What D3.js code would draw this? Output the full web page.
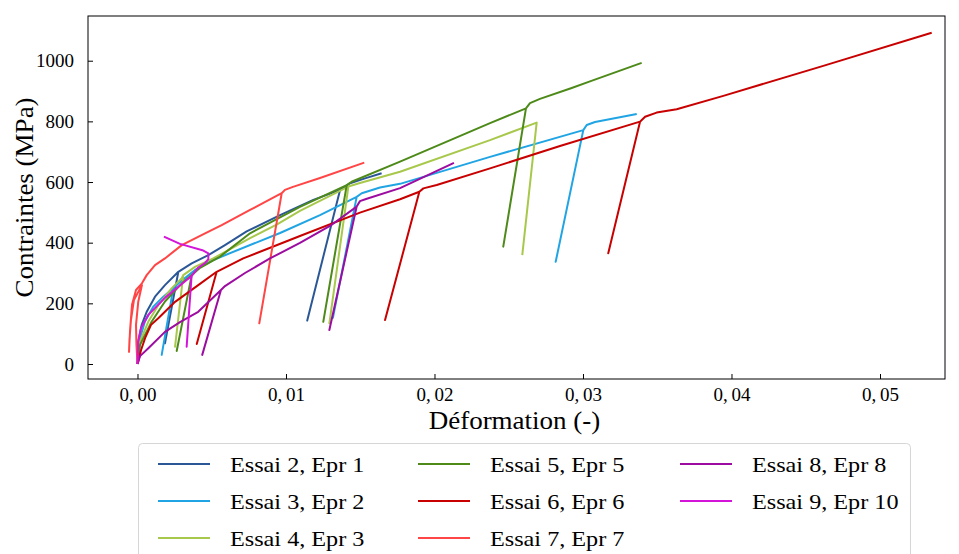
<!DOCTYPE html>
<html>
<head>
<meta charset="utf-8">
<script src="https://cdn.jsdelivr.net/npm/d3@7"></script>
<style>
  html, body { margin: 0; padding: 0; background: #fff; }
  svg { display: block; }
  text { font-family: "Liberation Serif", "Times New Roman", serif; fill: #000; }
</style>
</head>
<body>
<svg id="chart" width="959" height="554"></svg>
<script>
// ---------------- DATA ----------------
const seriesNames = ["Essai 2, Epr 1", "Essai 3, Epr 2", "Essai 4, Epr 3", "Essai 5, Epr 5",
                     "Essai 6, Epr 6", "Essai 7, Epr 7", "Essai 8, Epr 8", "Essai 9, Epr 10"];
const seriesColors = ["#2b5797", "#20a4e4", "#a8c84c", "#4d8a19",
                      "#c80000", "#ff4545", "#9c0ca0", "#d414d8"];

// [strain (-), stress (MPa)]
const essai2 = [[0,0],[0.00005,74],[0.00028,129],[0.00062,172],[0.00118,222],[0.00185,260],[0.00275,304],
  [0.00185,68],[0.00275,304],[0.00365,332],[0.00477,359],[0.00589,392],[0.00735,437],[0.0096,491],
  [0.01184,541],[0.01364,574],[0.01143,143],[0.01364,574],[0.01431,596],[0.01532,612],[0.01644,629]];

const essai3 = [[0,0],[0.00005,19],[0.00017,85],[0.0005,140],[0.00106,189],[0.00174,222],[0.00241,250],
  [0.00163,30],[0.00241,250],[0.00286,270],[0.00387,310],[0.0051,343],[0.0096,432],[0.01229,491],
  [0.01476,551],[0.01316,152],[0.01476,551],[0.0151,563],[0.01633,582],[0.01768,594],[0.02374,683],
  [0.03002,771],[0.02816,337],[0.03002,771],[0.03025,788],[0.03081,798],[0.03362,824]];

const essai4 = [[0,0],[0.00017,74],[0.00073,140],[0.0014,194],[0.00231,250],[0.00298,283],[0.00308,293],
  [0.00253,57],[0.00308,293],[0.00387,320],[0.0051,348],[0.00758,415],[0.0094,460],[0.01094,505],
  [0.0142,585],[0.01292,134],[0.0142,585],[0.01498,597],[0.01768,634],[0.02374,738],[0.02688,796],
  [0.02591,359]];

const essai5 = [[0,0],[0.00017,63],[0.00096,140],[0.00185,206],[0.00298,266],[0.00365,293],
  [0.00264,43],[0.00365,293],[0.00421,317],[0.00556,354],[0.00758,431],[0.01094,518],[0.01409,590],
  [0.01251,139],[0.01409,590],[0.01442,601],[0.01768,667],[0.02374,794],[0.02616,843],
  [0.02463,387],[0.02616,843],[0.02643,860],[0.0271,874],[0.02924,910],[0.03047,932],[0.03395,993]];

const essai6 = [[0,0],[0.00005,8],[0.00024,46],[0.00051,85],[0.00091,129],[0.0014,151],[0.00253,205],
  [0.00409,260],[0.00533,304],[0.00399,66],[0.00533,304],[0.00712,348],[0.01094,422],[0.01498,499],
  [0.01768,543],[0.01898,568],[0.01667,145],[0.01898,568],[0.01925,579],[0.02015,590],[0.02374,645],
  [0.02845,719],[0.03384,799],[0.0317,365],[0.03384,799],[0.03418,815],[0.03496,829],[0.03631,840],
  [0.03945,884],[0.04618,983],[0.05348,1092]];

const essai7 = [[0,0],[-0.00007,63],[-0.0001,129],[0.00005,205],[0.0003,260],[-0.00024,211],
  [-0.00044,145],[-0.00054,79],[-0.00057,40],[-0.0005,112],[-0.00037,195],[-0.0001,244],[0.0003,266],
  [0.00062,293],[0.00118,326],[0.00185,348],[0.00298,392],[0.00455,431],[0.00567,458],[0.00758,508],
  [0.00971,563],[0.0082,134],[0.00971,563],[0.00993,574],[0.01047,584],[0.01229,613],[0.01527,664]];

const essai8 = [[0,0],[0.00017,26],[0.00073,52],[0.00185,106],[0.00286,138],[0.00409,172],[0.00562,244],
  [0.00436,30],[0.00562,244],[0.00589,257],[0.00724,300],[0.00892,348],[0.01094,399],[0.01296,455],
  [0.01476,519],[0.01292,112],[0.01476,519],[0.01498,537],[0.01539,544],[0.01768,580],[0.02131,663]];

const essai9 = [[0,0],[0.00005,74],[0.00024,119],[0.00073,162],[0.00185,218],[0.00298,264],[0.00364,290],
  [0.00331,57],[0.00364,290],[0.00407,317],[0.00455,333],[0.00477,346],[0.00477,365],[0.00443,374],
  [0.00286,396],[0.00178,420]];

const allSeries = [essai2, essai3, essai4, essai5, essai6, essai7, essai8, essai9];

const xTicks = [0, 0.01, 0.02, 0.03, 0.04, 0.05];
const yTicks = [0, 200, 400, 600, 800, 1000];
const xLabel = "Déformation (-)";
const yLabel = "Contraintes (MPa)";

// ---------------- CHART ----------------
const svg = d3.select("#chart");
const L = 88, R = 945, T = 16, B = 379;

const x = d3.scaleLinear().domain([-0.003333, 0.054377]).range([L, R]);
const y = d3.scaleLinear().domain([-49.5, 1147.4]).range([B, T]);

const fmtX = d => d3.format(".2f")(d).replace(".", ",\u2009");

// lines
const line = d3.line().x(d => x(d[0])).y(d => y(d[1])).curve(d3.curveLinear);
const plot = svg.append("g");
allSeries.forEach((s, i) => {
  plot.append("path").datum(s)
    .attr("d", line)
    .attr("fill", "none")
    .attr("stroke", seriesColors[i])
    .attr("stroke-width", 2)
    .attr("stroke-linejoin", "round")
    .attr("stroke-linecap", "butt");
});

// axes (ticks inward)
const xAxis = d3.axisBottom(x).tickValues(xTicks).tickFormat(fmtX).tickSizeInner(-5).tickSizeOuter(0).tickPadding(9);
const gx = svg.append("g").attr("transform", `translate(0,${B})`).call(xAxis);
gx.select(".domain").remove();
gx.selectAll("text").attr("font-size", 19).attr("font-family", "Liberation Serif").attr("dy", "0.7em");

const yAxis = d3.axisLeft(y).tickValues(yTicks).tickFormat(d3.format("d")).tickSizeInner(-5).tickSizeOuter(0).tickPadding(14);
const gy = svg.append("g").attr("transform", `translate(${L},0)`).call(yAxis);
gy.select(".domain").remove();
gy.selectAll("text").attr("font-size", 19).attr("font-family", "Liberation Serif");
svg.selectAll(".tick line").attr("stroke", "#000").attr("stroke-width", 1);

// frame
svg.append("rect").attr("x", L).attr("y", T).attr("width", R - L).attr("height", B - T)
  .attr("fill", "none").attr("stroke", "#000").attr("stroke-width", 1);

// axis labels
const xl = svg.append("text").attr("x", (L + R) / 2 - 2).attr("y", 429)
  .attr("text-anchor", "middle").attr("font-size", 25).text(xLabel);
const yl = svg.append("text").attr("transform", `translate(33,${(T + B) / 2}) rotate(-90)`)
  .attr("text-anchor", "middle").attr("font-size", 25).text(yLabel);
[xl, yl].forEach(t => {
  const w = t.node().getComputedTextLength();
  t.attr("textLength", w * 1.08).attr("lengthAdjust", "spacingAndGlyphs");
});

// legend
const lg = svg.append("g");
lg.append("rect").attr("x", 138.5).attr("y", 443.5).attr("width", 772).attr("height", 130)
  .attr("rx", 4).attr("fill", "#fff").attr("fill-opacity", 0.85)
  .attr("stroke", "#d6d6d6").attr("stroke-width", 1);
const colX = [158, 418, 680];
const rowY = [464, 501, 538];
seriesNames.forEach((name, i) => {
  const c = Math.floor(i / 3), r = i % 3;
  lg.append("line").attr("x1", colX[c]).attr("x2", colX[c] + 52)
    .attr("y1", rowY[r]).attr("y2", rowY[r])
    .attr("stroke", seriesColors[i]).attr("stroke-width", 2);
  const t = lg.append("text").attr("x", colX[c] + 72).attr("y", rowY[r] + 8)
    .attr("font-size", 22).text(name);
  const w = t.node().getComputedTextLength();
  t.attr("textLength", w * 1.1).attr("lengthAdjust", "spacingAndGlyphs");
});
</script>
</body>
</html>
